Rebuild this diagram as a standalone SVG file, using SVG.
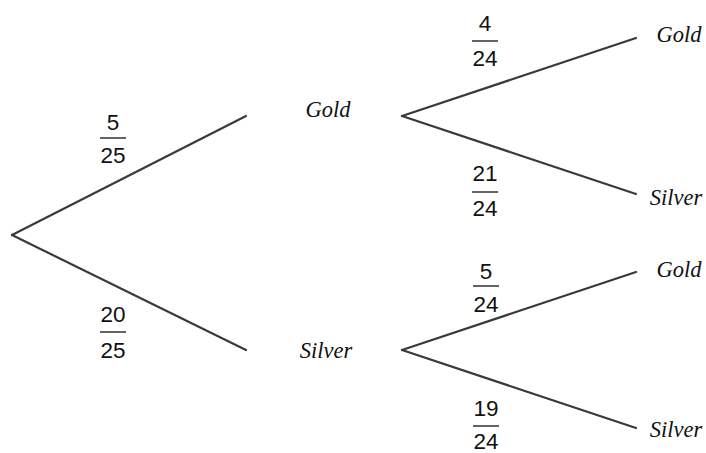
<svg xmlns="http://www.w3.org/2000/svg" width="706" height="453" viewBox="0 0 706 453">
  <style>
    .edge { stroke: #3a3a3a; stroke-width: 2.2; fill: none; stroke-linecap: round; }
    .bar { stroke: #222; stroke-width: 1.4; }
    .num { font-family: "Liberation Sans", Arial, sans-serif; font-size: 22.5px; fill: #111; text-anchor: middle; }
    .lbl { font-family: "Liberation Serif", "Times New Roman", serif; font-style: italic; font-size: 22.5px; fill: #111; text-anchor: middle; }
  </style>
  <rect width="706" height="453" fill="#fff"/>

  <g id="connectors">
    <line class="edge" x1="12" y1="235" x2="246" y2="116"/>
    <line class="edge" x1="12" y1="235" x2="246" y2="350"/>
    <line class="edge" x1="402" y1="116" x2="636" y2="38"/>
    <line class="edge" x1="402" y1="116" x2="636" y2="194"/>
    <line class="edge" x1="402" y1="350" x2="636" y2="272"/>
    <line class="edge" x1="402" y1="350" x2="636" y2="428"/>
  </g>

  <g id="probabilities">
    <g id="p-gold">
      <text class="num" x="113" y="130">5</text>
      <line class="bar" x1="100" y1="138" x2="126" y2="138"/>
      <text class="num" x="113" y="163">25</text>
    </g>
    <g id="p-silver">
      <text class="num" x="113" y="322">20</text>
      <line class="bar" x1="100" y1="332" x2="126" y2="332"/>
      <text class="num" x="113" y="358">25</text>
    </g>
    <g id="p-gold-gold">
      <text class="num" x="485" y="31">4</text>
      <line class="bar" x1="472" y1="41" x2="498" y2="41"/>
      <text class="num" x="485" y="66">24</text>
    </g>
    <g id="p-gold-silver">
      <text class="num" x="485" y="181">21</text>
      <line class="bar" x1="472" y1="192" x2="498" y2="192"/>
      <text class="num" x="485" y="216">24</text>
    </g>
    <g id="p-silver-gold">
      <text class="num" x="486" y="279">5</text>
      <line class="bar" x1="473" y1="286" x2="499" y2="286"/>
      <text class="num" x="486" y="312">24</text>
    </g>
    <g id="p-silver-silver">
      <text class="num" x="486" y="416">19</text>
      <line class="bar" x1="473" y1="426" x2="499" y2="426"/>
      <text class="num" x="486" y="449">24</text>
    </g>
  </g>

  <g id="node-gold"><text class="lbl" x="328" y="117">Gold</text></g>
  <g id="node-silver"><text class="lbl" x="326" y="358">Silver</text></g>
  <g id="node-gold-gold"><text class="lbl" x="679" y="42">Gold</text></g>
  <g id="node-gold-silver"><text class="lbl" x="676" y="205">Silver</text></g>
  <g id="node-silver-gold"><text class="lbl" x="679" y="277">Gold</text></g>
  <g id="node-silver-silver"><text class="lbl" x="676" y="437">Silver</text></g>
</svg>
